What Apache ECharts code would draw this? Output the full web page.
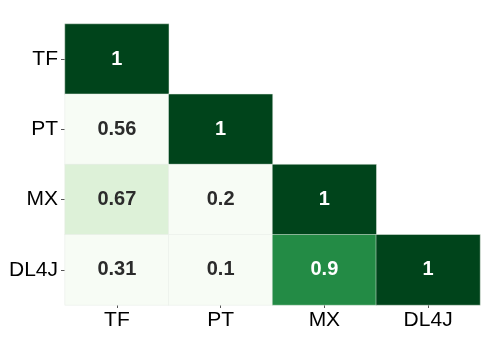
<!DOCTYPE html>
<html>
<head>
<meta charset="utf-8">
<script src="https://cdn.jsdelivr.net/npm/echarts@6/dist/echarts.min.js"></script>
<style>
  html, body { margin: 0; padding: 0; background: #fff; }
  #chart { width: 498px; height: 364px; }
</style>
</head>
<body>
<div id="chart"></div>
<script>
// frameworks, top to bottom on the y axis, left to right on the x axis
const frameworks = ['TF', 'PT', 'MX', 'DL4J'];

// lower triangle of the correlation matrix, one array per row
const rowTF   = [1];
const rowPT   = [0.56, 1];
const rowMX   = [0.67, 0.2, 1];
const rowDL4J = [0.31, 0.1, 0.9, 1];
const rows = [rowTF, rowPT, rowMX, rowDL4J];

// build [x, y, value] cells
const cells = [];
rows.forEach(function (row, yi) {
  row.forEach(function (v, xi) {
    cells.push({
      value: [xi, yi, v],
      label: { color: v >= 0.8 ? '#ffffff' : '#2b2b2b' }
    });
  });
});

var myChart = echarts.init(document.getElementById('chart'));

const option = {
  animation: false,
  grid: { left: 65, right: 18, top: 24, bottom: 59 },
  xAxis: {
    type: 'category',
    data: frameworks,
    splitArea: { show: false },
    axisLine: { show: false },
    axisTick: { show: true, alignWithLabel: true, length: 3, lineStyle: { color: '#555' } },
    axisLabel: { color: '#000', fontSize: 21, fontFamily: 'Liberation Sans, Arial', margin: 5 }
  },
  yAxis: {
    type: 'category',
    data: frameworks,
    inverse: true,
    splitArea: { show: false },
    axisLine: { show: false },
    axisTick: { show: true, alignWithLabel: true, length: 4, lineStyle: { color: '#555' } },
    axisLabel: { color: '#000', fontSize: 21, fontFamily: 'Liberation Sans, Arial', margin: 7 }
  },
  visualMap: {
    show: false,
    type: 'piecewise',
    dimension: 2,
    pieces: [
      { lt: 0.6, color: '#f7fcf5' },
      { gte: 0.6, lt: 0.8, color: '#ddf1d8' },
      { gte: 0.8, lt: 0.95, color: '#238b45' },
      { gte: 0.95, color: '#00441b' }
    ]
  },
  series: [
    {
      type: 'heatmap',
      data: cells,
      itemStyle: { borderColor: '#e6ede6', borderWidth: 0.5 },
      label: {
        show: true,
        fontSize: 20,
        fontWeight: 'bold',
        fontFamily: 'Liberation Sans, Arial',
        formatter: function (p) { return p.value[2]; }
      },
      emphasis: { disabled: true }
    }
  ]
};

option && myChart.setOption(option);
</script>
</body>
</html>
